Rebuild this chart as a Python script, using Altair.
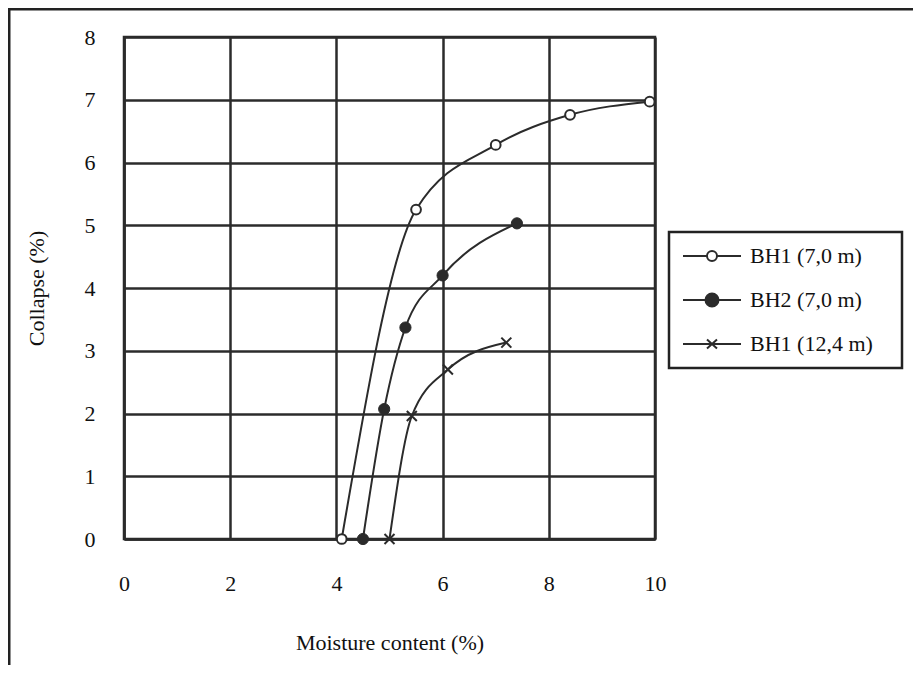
import altair as alt
import pandas as pd

series_names = ["BH1 (7,0 m)", "BH2 (7,0 m)", "BH1 (12,4 m)"]

bh1_7_x = [4.1, 5.5, 7.0, 8.4, 9.9]
bh1_7_y = [0.0, 5.25, 6.28, 6.76, 6.97]

bh2_7_x = [4.5, 4.9, 5.3, 6.0, 7.4]
bh2_7_y = [0.0, 2.07, 3.37, 4.2, 5.03]

bh1_12_x = [5.0, 5.42, 6.1, 7.2]
bh1_12_y = [0.0, 1.96, 2.7, 3.13]

x_ticks = [0, 2, 4, 6, 8, 10]
y_ticks = [0, 1, 2, 3, 4, 5, 6, 7, 8]

rows = []
for name, xs, ys in zip(series_names, [bh1_7_x, bh2_7_x, bh1_12_x], [bh1_7_y, bh2_7_y, bh1_12_y]):
    for i, (a, b) in enumerate(zip(xs, ys)):
        rows.append({"series": name, "x": a, "y": b, "order": i})
df = pd.DataFrame(rows)

INK = "#2b2b2b"
FONT = "Liberation Serif"
FS = 22

xscale = alt.Scale(domain=[0, 10], nice=False, zero=False)
yscale = alt.Scale(domain=[0, 8], nice=False, zero=False)

common_axis = dict(grid=True, ticks=False, tickSize=0, labelFontSize=FS, titleFontSize=FS,
                   labelFont=FONT, titleFont=FONT, labelColor="#111", titleColor="#111",
                   titleFontWeight="normal", domainColor=INK, domainWidth=2.5,
                   gridColor=INK, gridWidth=2.5, gridOpacity=1, labelFlush=False, format="d")

xaxis = alt.Axis(values=x_ticks, title="Moisture content (%)", labelPadding=34, titlePadding=38, **common_axis)
yaxis = alt.Axis(values=y_ticks, title="Collapse (%)", labelPadding=29, titlePadding=36, **common_axis)

base = alt.Chart(df)

lines = base.mark_line(interpolate="monotone", color=INK, strokeWidth=2).encode(
    x=alt.X("x:Q", scale=xscale, axis=xaxis),
    y=alt.Y("y:Q", scale=yscale, axis=yaxis),
    detail="series:N",
    order="order:Q",
)

open_pts = base.transform_filter(alt.datum.series == series_names[0]).mark_point(
    shape="circle", size=95, filled=True, fill="white", stroke=INK, strokeWidth=2, opacity=1
).encode(x="x:Q", y="y:Q")

filled_pts = base.transform_filter(alt.datum.series == series_names[1]).mark_point(
    shape="circle", size=125, filled=True, fill=INK, stroke=INK, strokeWidth=1, opacity=1
).encode(x="x:Q", y="y:Q")

cross_pts = base.transform_filter(alt.datum.series == series_names[2]).mark_point(
    shape="M-1,-1L1,1M-1,1L1,-1", size=100, filled=False, stroke=INK, strokeWidth=2, opacity=1
).encode(x="x:Q", y="y:Q")

# legend symbols (unit = 10 px): a line segment with the marker in its middle
p_open = "M-1,0L1.4,0M2.4,0L4.8,0M2.4,0A0.5,0.5,0,1,1,1.4,0A0.5,0.5,0,1,1,2.4,0Z"
p_fill = "M-1,0L4.8,0M2.55,0A0.65,0.65,0,1,1,1.25,0A0.65,0.65,0,1,1,2.55,0Z"
p_cross = "M-1,0L4.8,0M1.4,-0.45L2.4,0.45M1.4,0.45L2.4,-0.45"

leg = dict(title=None, orient="none", legendX=545, legendY=195,
           symbolStrokeColor=INK, symbolStrokeWidth=2, symbolSize=400,
           labelExpr="datum.label + '\u2800'")

legend_layer = base.transform_filter("false").mark_point(
    size=400, stroke=INK, strokeWidth=2, opacity=1, filled=True
).encode(
    x="x:Q", y="y:Q",
    shape=alt.Shape("series:N", scale=alt.Scale(domain=series_names, range=[p_open, p_fill, p_cross]),
                    legend=alt.Legend(**leg)),
    fill=alt.Fill("series:N", scale=alt.Scale(domain=series_names, range=["white", INK, INK]),
                  legend=alt.Legend(**leg)),
    stroke=alt.Stroke("series:N", scale=alt.Scale(domain=series_names, range=[INK, INK, INK]),
                      legend=alt.Legend(**leg)),
)

frame_top = alt.Chart(pd.DataFrame({"k": [0]})).mark_rule(color="#222", strokeWidth=3).encode(
    x=alt.value(-116), x2=alt.value(800), y=alt.value(-28)
)
frame_left = alt.Chart(pd.DataFrame({"k": [0]})).mark_rule(color="#222", strokeWidth=3).encode(
    x=alt.value(-115), y=alt.value(-29), y2=alt.value(660)
)

chart = alt.layer(lines, open_pts, filled_pts, cross_pts, legend_layer, frame_top, frame_left).properties(
    width=531, height=502,
    autosize=alt.AutoSizeParams(type="none"),
    padding={"left": 116, "top": 29, "right": 258, "bottom": 126},
    background="white",
).configure_view(
    stroke=INK, strokeWidth=2.5
).configure_legend(
    strokeColor="#222", strokeWidth=2.5, padding=13, rowPadding=22, labelOffset=46,
    labelFont=FONT, labelFontSize=FS, labelColor="#111", labelLimit=400
)

chart.save("out.html", embed_options={"renderer": "svg", "actions": False})
